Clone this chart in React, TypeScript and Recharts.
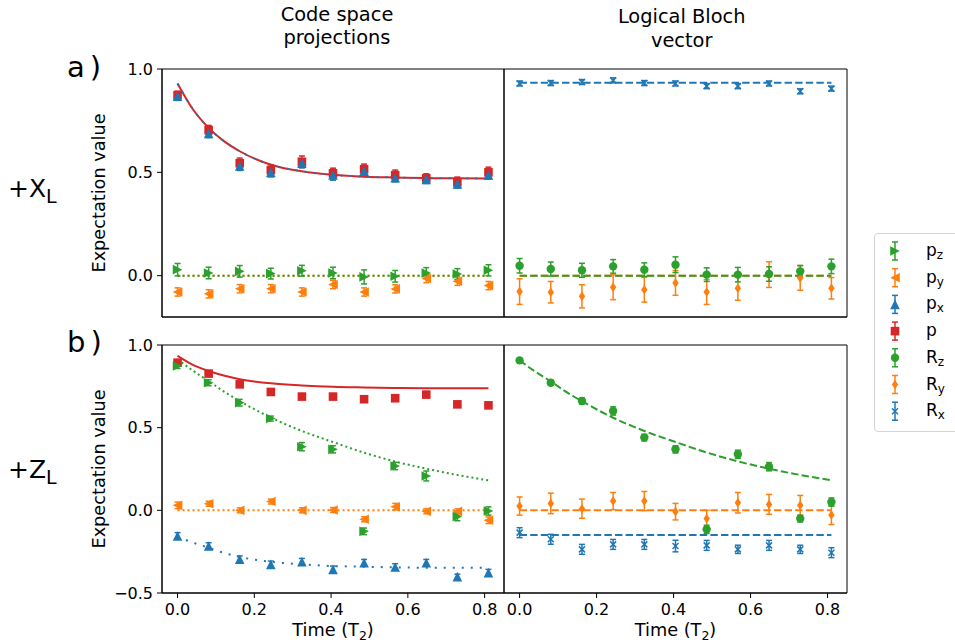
import React from "react";
import {
  ComposedChart,
  Line,
  Scatter,
  ErrorBar,
  XAxis,
  YAxis,
  ReferenceArea,
} from "recharts";

// measurement times (units of T2)
const times = [0, 0.081, 0.162, 0.243, 0.324, 0.405, 0.486, 0.567, 0.648, 0.729, 0.81];
const fitTimes = [0, 0.04, 0.081, 0.12, 0.162, 0.243, 0.324, 0.405, 0.486, 0.567, 0.648, 0.729, 0.81];
const flatTimes = [0, 0.81];

const xTicks = [0, 0.2, 0.4, 0.6, 0.8];
const topYTicks = [0, 0.5, 1.0];
const bottomYTicks = [-0.5, 0, 0.5, 1.0];

// a) +X_L, code space projections
const aP = [0.873, 0.704, 0.544, 0.511, 0.551, 0.495, 0.515, 0.486, 0.471, 0.452, 0.5];
const aPErr = [0.02, 0.023, 0.025, 0.025, 0.028, 0.025, 0.025, 0.025, 0.022, 0.025, 0.025];
const aPx = [0.868, 0.688, 0.531, 0.5, 0.544, 0.487, 0.506, 0.474, 0.466, 0.444, 0.487];
const aPxErr = [0.02, 0.02, 0.022, 0.022, 0.022, 0.025, 0.02, 0.02, 0.02, 0.02, 0.02];
const aPz = [0.029, 0.013, 0.021, 0.01, 0.024, 0.013, -0.006, -0.003, 0.013, 0.008, 0.026];
const aPzErr = [0.03, 0.028, 0.028, 0.026, 0.026, 0.028, 0.034, 0.028, 0.026, 0.026, 0.027];
const aPy = [-0.079, -0.088, -0.063, -0.063, -0.079, -0.043, -0.079, -0.064, -0.014, -0.027, -0.048];
const aPyErr = [0.02, 0.02, 0.02, 0.02, 0.02, 0.02, 0.02, 0.02, 0.02, 0.02, 0.02];
const aFitP = [0.93, 0.805, 0.715, 0.652, 0.602, 0.537, 0.505, 0.488, 0.479, 0.475, 0.472, 0.471, 0.47];
const aFitZero = [0, 0];

// a) +X_L, logical Bloch vector
const aRx = [0.93, 0.932, 0.937, 0.945, 0.932, 0.93, 0.917, 0.917, 0.93, 0.892, 0.905];
const aRxErr = [0.012, 0.012, 0.012, 0.012, 0.012, 0.012, 0.012, 0.012, 0.012, 0.012, 0.012];
const aRz = [0.048, 0.032, 0.026, 0.045, 0.029, 0.053, 0.005, 0.005, 0.008, 0.021, 0.045];
const aRzErr = [0.035, 0.034, 0.034, 0.033, 0.033, 0.038, 0.033, 0.035, 0.035, 0.028, 0.035];
const aRy = [-0.077, -0.08, -0.1, -0.056, -0.068, -0.035, -0.079, -0.061, 0.005, -0.011, -0.061];
const aRyErr = [0.062, 0.052, 0.056, 0.06, 0.06, 0.06, 0.06, 0.058, 0.062, 0.06, 0.052];
const aFitRx = [0.933, 0.933];

// b) +Z_L, code space projections
const bP = [0.893, 0.827, 0.762, 0.716, 0.688, 0.688, 0.672, 0.678, 0.7, 0.641, 0.635];
const bPErr = [0.015, 0.012, 0.012, 0.015, 0.012, 0.012, 0.012, 0.012, 0.012, 0.012, 0.015];
const bPz = [0.873, 0.772, 0.651, 0.555, 0.385, 0.369, -0.127, 0.268, 0.208, -0.038, -0.004];
const bPzErr = [0.015, 0.018, 0.02, 0.015, 0.025, 0.022, 0.02, 0.022, 0.03, 0.025, 0.025];
const bPy = [0.03, 0.04, 0.0, 0.053, 0.0, 0.002, -0.054, 0.022, -0.006, -0.006, -0.06];
const bPyErr = [0.02, 0.015, 0.015, 0.015, 0.015, 0.015, 0.015, 0.02, 0.015, 0.015, 0.02];
const bPx = [-0.155, -0.216, -0.296, -0.327, -0.311, -0.357, -0.317, -0.343, -0.317, -0.401, -0.377];
const bPxErr = [0.02, 0.02, 0.02, 0.02, 0.02, 0.02, 0.02, 0.02, 0.02, 0.015, 0.02];
const bFitP = [0.934, 0.88, 0.843, 0.815, 0.793, 0.768, 0.755, 0.747, 0.743, 0.74, 0.739, 0.738, 0.738];
const bFitPz = [0.913, 0.845, 0.782, 0.72, 0.661, 0.561, 0.48, 0.413, 0.349, 0.295, 0.252, 0.214, 0.181];
const bFitPx = [-0.16, -0.195, -0.226, -0.257, -0.282, -0.311, -0.327, -0.337, -0.341, -0.345, -0.347, -0.347, -0.347];

// b) +Z_L, logical Bloch vector
const bRz = [0.907, 0.772, 0.661, 0.601, 0.44, 0.369, -0.115, 0.339, 0.264, -0.05, 0.05];
const bRzErr = [0.012, 0.015, 0.018, 0.025, 0.02, 0.022, 0.025, 0.025, 0.025, 0.02, 0.025];
const bRy = [0.026, 0.042, 0.01, 0.056, 0.056, -0.008, -0.05, 0.046, 0.036, 0.03, -0.028];
const bRyErr = [0.055, 0.062, 0.058, 0.052, 0.058, 0.05, 0.05, 0.062, 0.06, 0.06, 0.058];
const bRx = [-0.135, -0.175, -0.236, -0.206, -0.206, -0.216, -0.212, -0.236, -0.212, -0.236, -0.256];
const bRxErr = [0.03, 0.03, 0.03, 0.03, 0.03, 0.035, 0.03, 0.025, 0.03, 0.025, 0.03];
const bFitRz = [0.907, 0.84, 0.78, 0.718, 0.66, 0.56, 0.48, 0.413, 0.35, 0.296, 0.252, 0.214, 0.182];
const bFitRx = [-0.149, -0.149];

const blue = "#1f77b4";
const orange = "#ff7f0e";
const green = "#2ca02c";
const red = "#d62728";

const DOT = "2 3";
const SPARSE_DOT = "2 7";
const DASH = "7.4 3.2";

const X_DOMAIN = [-0.0405, 0.8505];
const PLOT_H = 248;
const FONT = "DejaVu Sans";

type Kind = "tri-right" | "tri-left" | "tri-up" | "square" | "circle" | "diamond" | "x";

const Marker = ({ kind, cx, cy, color }: { kind: Kind; cx: number; cy: number; color: string }) => {
  const s = 4.8;
  switch (kind) {
    case "tri-up":
      return <polygon points={`${cx},${cy - s} ${cx - s},${cy + s} ${cx + s},${cy + s}`} fill={color} />;
    case "tri-right":
      return <polygon points={`${cx + s},${cy} ${cx - s},${cy - s} ${cx - s},${cy + s}`} fill={color} />;
    case "tri-left":
      return <polygon points={`${cx - s},${cy} ${cx + s},${cy - s} ${cx + s},${cy + s}`} fill={color} />;
    case "square":
      return <rect x={cx - 4.3} y={cy - 4.3} width={8.6} height={8.6} fill={color} />;
    case "circle":
      return <circle cx={cx} cy={cy} r={4.2} fill={color} />;
    case "diamond":
      return <polygon points={`${cx},${cy - 4.8} ${cx + 3.2},${cy} ${cx},${cy + 4.8} ${cx - 3.2},${cy}`} fill={color} />;
    default:
      return (
        <g stroke={color} strokeWidth={1.5}>
          <line x1={cx - 3} y1={cy - 3} x2={cx + 3} y2={cy + 3} />
          <line x1={cx - 3} y1={cy + 3} x2={cx + 3} y2={cy - 3} />
        </g>
      );
  }
};

interface Points {
  ys: number[];
  err: number[];
  color: string;
  kind: Kind;
}
interface Fit {
  xs: number[];
  ys: number[];
  color: string;
  dash?: string;
}

const fmt = (v: number) => (v < 0 ? "\u2212" + Math.abs(v).toFixed(1) : v.toFixed(1));

const timeLabel = (props: any) => {
  const vb = props.viewBox;
  return (
    <text x={vb.x + vb.width / 2} y={vb.y + 43} textAnchor="middle" fontSize={17.7} fill="#000">
      Time (T
      <tspan fontSize={12.5} dy={4}>2</tspan>
      <tspan dy={-4}>)</tspan>
    </text>
  );
};

const valueLabel = (props: any) => {
  const vb = props.viewBox;
  const x = vb.x + 13;
  const y = vb.y + vb.height / 2;
  return (
    <text x={x} y={y} transform={`rotate(-90 ${x} ${y})`} textAnchor="middle" fontSize={17.7} fill="#000">
      Expectation value
    </text>
  );
};

const Panel = ({
  left,
  top,
  width,
  yDomain,
  yTicks,
  yLabels,
  xLabels,
  fits,
  points,
}: {
  left: number;
  top: number;
  width: number;
  yDomain: number[];
  yTicks: number[];
  yLabels: boolean;
  xLabels: boolean;
  fits: Fit[];
  points: Points[];
}) => {
  const pad = 10;
  const yw = yLabels ? 70 : 0;
  const xh = xLabels ? 46 : 6;
  return (
    <div style={{ position: "absolute", left: left - yw - pad, top: top - pad }}>
      <ComposedChart
        width={pad + yw + width + pad}
        height={pad + PLOT_H + xh + pad}
        margin={{ top: pad, right: pad, bottom: pad, left: pad }}
      >
        <XAxis
          dataKey="x"
          type="number"
          domain={X_DOMAIN}
          ticks={xTicks}
          allowDataOverflow
          height={xh}
          stroke="#000"
          tickSize={5}
          tickMargin={6}
          tick={xLabels ? { fill: "#000", fontSize: 16 } : false}
          tickFormatter={fmt}
          label={xLabels ? timeLabel : undefined}
        />
        <YAxis
          type="number"
          domain={yDomain}
          ticks={yTicks}
          allowDataOverflow
          width={yw}
          stroke="#000"
          tickSize={5}
          tickMargin={4}
          tick={yLabels ? { fill: "#000", fontSize: 16 } : false}
          tickFormatter={fmt}
          label={yLabels ? valueLabel : undefined}
        />
        <ReferenceArea
          x1={X_DOMAIN[0]}
          x2={X_DOMAIN[1]}
          y1={yDomain[0]}
          y2={yDomain[1]}
          fill="none"
          stroke="#000"
          strokeWidth={1}
          ifOverflow="visible"
        />
        {fits.map((f, i) => (
          <Line
            key={"f" + i}
            data={f.xs.map((x, j) => ({ x, y: f.ys[j] }))}
            dataKey="y"
            type="monotone"
            stroke={f.color}
            strokeWidth={2}
            strokeDasharray={f.dash}
            dot={false}
            activeDot={false}
            isAnimationActive={false}
          />
        ))}
        {points.map((s, i) => (
          <Scatter
            key={"s" + i}
            data={times.map((x, j) => ({ x, y: s.ys[j], err: s.err[j] }))}
            dataKey="y"
            isAnimationActive={false}
            shape={(p: any) => <Marker kind={s.kind} cx={p.cx} cy={p.cy} color={s.color} />}
          >
            <ErrorBar dataKey="err" direction="y" width={3} strokeWidth={1.5} stroke={s.color} />
          </Scatter>
        ))}
      </ComposedChart>
    </div>
  );
};

const legendItems: { main: string; sub: string; color: string; kind: Kind }[] = [
  { main: "p", sub: "z", color: green, kind: "tri-right" },
  { main: "p", sub: "y", color: orange, kind: "tri-left" },
  { main: "p", sub: "x", color: blue, kind: "tri-up" },
  { main: "p", sub: "", color: red, kind: "square" },
  { main: "R", sub: "z", color: green, kind: "circle" },
  { main: "R", sub: "y", color: orange, kind: "diamond" },
  { main: "R", sub: "x", color: blue, kind: "x" },
];

const ChartLegend = () => (
  <div
    style={{
      position: "absolute",
      left: 874,
      top: 233,
      width: 100,
      height: 197,
      border: "1px solid #d4d4d4",
      borderRadius: 4,
      background: "#fff",
    }}
  >
    <svg width={100} height={197}>
      {legendItems.map((it, i) => {
        const cy = 17 + i * 26.7;
        return (
          <g key={i}>
            <g stroke={it.color} strokeWidth={1.5}>
              <line x1={20} y1={cy - 9} x2={20} y2={cy + 9} />
              <line x1={17} y1={cy - 9} x2={23} y2={cy - 9} />
              <line x1={17} y1={cy + 9} x2={23} y2={cy + 9} />
            </g>
            <Marker kind={it.kind} cx={20} cy={cy} color={it.color} />
            <text x={51} y={cy + 5} fontSize={17} fill="#000">
              {it.main}
              {it.sub ? (
                <tspan fontSize={12} dy={3}>
                  {it.sub}
                </tspan>
              ) : null}
            </text>
          </g>
        );
      })}
    </svg>
  </div>
);

export default function App() {
  return (
    <div
      style={{
        position: "absolute",
        left: 0,
        top: 0,
        width: 955,
        height: 644,
        background: "#fff",
        fontFamily: FONT,
        overflow: "hidden",
      }}
    >
      <svg width={955} height={644} style={{ position: "absolute", left: 0, top: 0 }}>
        <g fill="#000" fontFamily={FONT}>
          <text x={337} y={20.7} fontSize={19.4} textAnchor="middle">Code space</text>
          <text x={337} y={44.3} fontSize={19.4} textAnchor="middle">projections</text>
          <text x={681.7} y={22.7} fontSize={19.4} textAnchor="middle">Logical Bloch</text>
          <text x={681.7} y={46.5} fontSize={19.4} textAnchor="middle">vector</text>
          <text x={67} y={77} fontSize={29}>
            a<tspan dx={5}>)</tspan>
          </text>
          <text x={67} y={351.7} fontSize={29}>
            b<tspan dx={5}>)</tspan>
          </text>
          <text x={8} y={197} fontSize={25}>
            +X<tspan fontSize={19} dy={6}>L</tspan>
          </text>
          <text x={8} y={478} fontSize={25}>
            +Z<tspan fontSize={19} dy={6}>L</tspan>
          </text>
        </g>
      </svg>

      <Panel
        left={162}
        top={69}
        width={342}
        yDomain={[-0.2, 1.0]}
        yTicks={topYTicks}
        yLabels
        xLabels={false}
        fits={[
          { xs: fitTimes, ys: aFitP, color: red },
          { xs: fitTimes, ys: aFitP, color: blue, dash: SPARSE_DOT },
          { xs: flatTimes, ys: aFitZero, color: orange, dash: DOT },
          { xs: flatTimes, ys: aFitZero, color: green, dash: DOT },
        ]}
        points={[
          { ys: aPy, err: aPyErr, color: orange, kind: "tri-left" },
          { ys: aPz, err: aPzErr, color: green, kind: "tri-right" },
          { ys: aP, err: aPErr, color: red, kind: "square" },
          { ys: aPx, err: aPxErr, color: blue, kind: "tri-up" },
        ]}
      />
      <Panel
        left={504}
        top={69}
        width={343}
        yDomain={[-0.2, 1.0]}
        yTicks={topYTicks}
        yLabels={false}
        xLabels={false}
        fits={[
          { xs: flatTimes, ys: aFitRx, color: blue, dash: DASH },
          { xs: flatTimes, ys: aFitZero, color: orange, dash: DASH },
          { xs: flatTimes, ys: aFitZero, color: green, dash: DASH },
        ]}
        points={[
          { ys: aRx, err: aRxErr, color: blue, kind: "x" },
          { ys: aRy, err: aRyErr, color: orange, kind: "diamond" },
          { ys: aRz, err: aRzErr, color: green, kind: "circle" },
        ]}
      />
      <Panel
        left={162}
        top={345}
        width={342}
        yDomain={[-0.5, 1.0]}
        yTicks={bottomYTicks}
        yLabels
        xLabels
        fits={[
          { xs: fitTimes, ys: bFitP, color: red },
          { xs: fitTimes, ys: bFitPz, color: green, dash: DOT },
          { xs: flatTimes, ys: aFitZero, color: orange, dash: DOT },
          { xs: fitTimes, ys: bFitPx, color: blue, dash: SPARSE_DOT },
        ]}
        points={[
          { ys: bP, err: bPErr, color: red, kind: "square" },
          { ys: bPy, err: bPyErr, color: orange, kind: "tri-left" },
          { ys: bPz, err: bPzErr, color: green, kind: "tri-right" },
          { ys: bPx, err: bPxErr, color: blue, kind: "tri-up" },
        ]}
      />
      <Panel
        left={504}
        top={345}
        width={343}
        yDomain={[-0.5, 1.0]}
        yTicks={bottomYTicks}
        yLabels={false}
        xLabels
        fits={[
          { xs: fitTimes, ys: bFitRz, color: green, dash: DASH },
          { xs: flatTimes, ys: aFitZero, color: orange, dash: DASH },
          { xs: flatTimes, ys: bFitRx, color: blue, dash: DASH },
        ]}
        points={[
          { ys: bRx, err: bRxErr, color: blue, kind: "x" },
          { ys: bRy, err: bRyErr, color: orange, kind: "diamond" },
          { ys: bRz, err: bRzErr, color: green, kind: "circle" },
        ]}
      />

      <ChartLegend />
    </div>
  );
}
